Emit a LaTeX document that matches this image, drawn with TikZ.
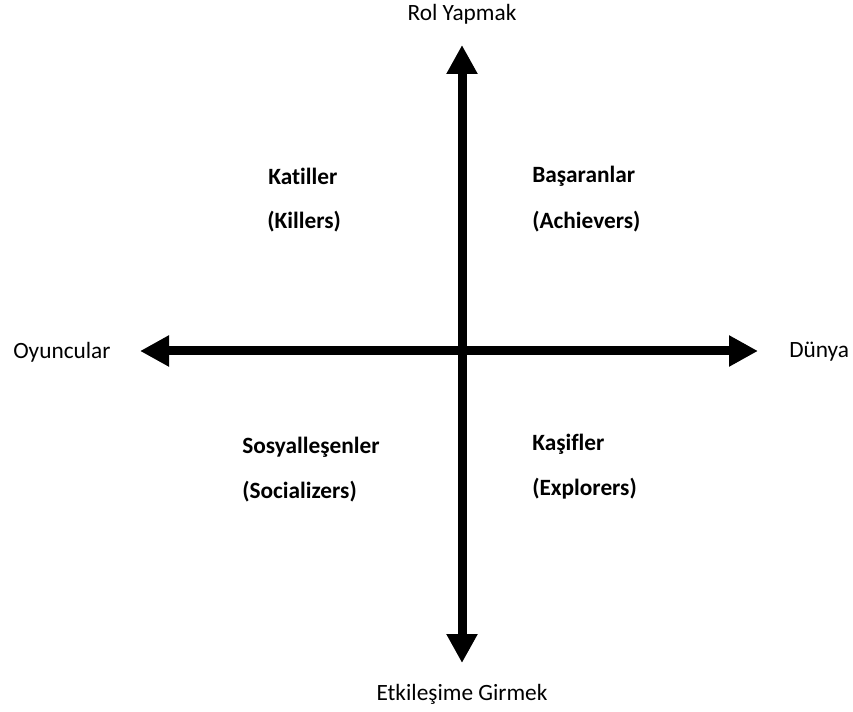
\documentclass[tikz,border=0pt]{standalone}
\usepackage{fontspec}
\setmainfont[Ligatures=NoCommon]{Carlito}
\usetikzlibrary{arrows.meta}

\begin{document}
\begin{tikzpicture}[%
      x=0.75pt, y=-0.75pt,
      axis/.style={line width=6.75pt, {Triangle[length=21.75pt,width=22pt]}-{Triangle[length=21.75pt,width=22pt]}},
      lbl/.style={font=\fontsize{17.5}{20}\selectfont, inner sep=0pt},
      type/.style={font=\fontsize{17.5}{20}\selectfont\bfseries, inner sep=0pt, anchor=west},
      ]
      \useasboundingbox (0,0) rectangle (853,712);

      \coordinate (top) at (462,45);
      \coordinate (bottom) at (462,663);
      \coordinate (left) at (140,351);
      \coordinate (right) at (758,351);

      \draw [axis] (bottom) -- (top);
      \draw [axis] (left) -- (right);

      \node [lbl] (rol) at (462,14) {Rol Yapmak};
      \node [lbl] (etk) at (462,694) {Etkileşime Girmek};
      \node [lbl, anchor=west] (oyn) at (13,352) {Oyuncular};
      \node [lbl, anchor=west] (dun) at (789,352) {Dünya};

      \node [type] (kat) at (268,176) {Katiller};
      \node [type] (katen) at (267,222) {(Killers)};
      \node [type] (bas) at (532,176) {Başaranlar};
      \node [type] (basen) at (532,222) {(Achievers)};
      \node [type] (sos) at (242,447) {Sosyalleşenler};
      \node [type] (sosen) at (242,492) {(Socializers)};
      \node [type] (kas) at (532,444) {Kaşifler};
      \node [type] (kasen) at (532,489) {(Explorers)};
\end{tikzpicture}
\end{document}
